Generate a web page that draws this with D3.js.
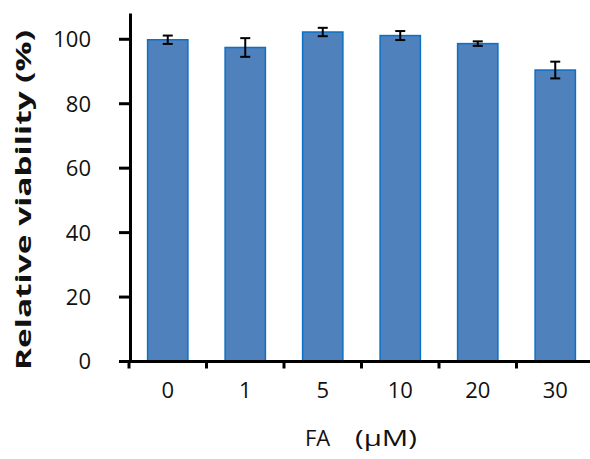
<!DOCTYPE html>
<html>
<head>
<meta charset="utf-8">
<script src="https://cdn.jsdelivr.net/npm/d3@7"></script>
<style>
  html, body { margin: 0; padding: 0; background: #fff; }
  svg { display: block; }
</style>
</head>
<body>
<svg id="chart" width="590" height="459"></svg>
<script>
const categories = ["0", "1", "5", "10", "20", "30"];
const values = [99.7, 97.3, 102.1, 101.0, 98.5, 90.3];
const errors = [1.3, 2.9, 1.3, 1.4, 0.7, 2.6];
const yTicks = [0, 20, 40, 60, 80, 100];
const yTitle = "Relative viability (%)";
const xTitleParts = ["FA", "(\u03BCM)"];

const svg = d3.select("#chart");
const font = "'Open Sans', 'Liberation Sans', sans-serif";

const x = d3.scaleBand().domain(categories).range([129, 594])
  .paddingInner(0.48).paddingOuter(0.24);
const y = d3.scaleLinear().domain([0, 108]).range([361, 13]);

// bars
svg.append("g").selectAll("rect").data(values).join("rect")
  .attr("x", (d, i) => x(categories[i]))
  .attr("y", d => y(d))
  .attr("width", x.bandwidth())
  .attr("height", d => y(0) - y(d))
  .attr("fill", "#4F81BD")
  .attr("stroke", "#0B70C6")
  .attr("stroke-width", 1.5);

// error bars
const eg = svg.append("g").attr("stroke", "#000").attr("stroke-width", 2);
values.forEach((v, i) => {
  const cx = x(categories[i]) + x.bandwidth() / 2;
  const e = errors[i];
  eg.append("line").attr("x1", cx).attr("x2", cx).attr("y1", y(v + e)).attr("y2", y(v - e));
  eg.append("line").attr("x1", cx - 5).attr("x2", cx + 5).attr("y1", y(v + e)).attr("y2", y(v + e));
  eg.append("line").attr("x1", cx - 5).attr("x2", cx + 5).attr("y1", y(v - e)).attr("y2", y(v - e));
});

// y axis
const yAxis = svg.append("g").attr("transform", "translate(130,0)")
  .call(d3.axisLeft(y).tickValues(yTicks).tickSize(11).tickSizeOuter(0).tickPadding(28));
yAxis.select(".domain").attr("stroke", "#000").attr("stroke-width", 3);
yAxis.selectAll(".tick line").attr("stroke", "#000").attr("stroke-width", 3);
yAxis.selectAll(".tick text").attr("font-family", font).style("font-size", "22px")
  .attr("fill", "#111").attr("dy", "0.36em");

// x axis
const xAxis = svg.append("g").attr("transform", "translate(0,361.5)")
  .call(d3.axisBottom(x).tickSize(0).tickSizeOuter(0).tickPadding(21));
xAxis.select(".domain").attr("stroke", "#000").attr("stroke-width", 3)
  .attr("d", "M128.5,0H594");
xAxis.selectAll(".tick text").attr("font-family", font).style("font-size", "22px")
  .attr("fill", "#111");

// boundary ticks on x axis
const bounds = d3.range(categories.length + 1).map(i => x.range()[0] + i * x.step());
xAxis.append("g").selectAll("line").data(bounds).join("line")
  .attr("x1", d => d).attr("x2", d => d).attr("y1", 0).attr("y2", 7)
  .attr("stroke", "#000").attr("stroke-width", 3);

// titles
svg.append("text")
  .attr("transform", "translate(31,200) rotate(-90)")
  .attr("text-anchor", "middle")
  .attr("font-family", font).attr("font-weight", "bold").style("font-size", "21px")
  .attr("textLength", 340).attr("lengthAdjust", "spacingAndGlyphs")
  .attr("fill", "#111")
  .text(yTitle);

svg.append("text")
  .attr("x", 305).attr("y", 446)
  .attr("font-family", font).style("font-size", "22px")
  .attr("fill", "#111")
  .text(xTitleParts[0]);

svg.append("text")
  .attr("x", 355).attr("y", 446)
  .attr("font-family", font).style("font-size", "22px")
  .attr("textLength", 62).attr("lengthAdjust", "spacingAndGlyphs")
  .attr("fill", "#111")
  .text(xTitleParts[1]);
</script>
</body>
</html>
